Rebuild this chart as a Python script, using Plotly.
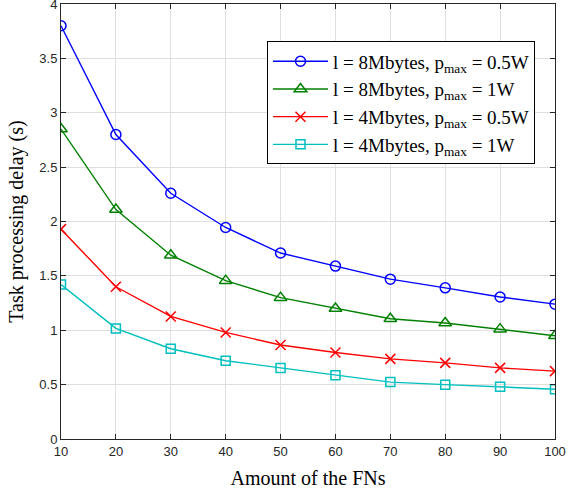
import plotly.graph_objects as go

fns = [10, 20, 30, 40, 50, 60, 70, 80, 90, 100]
delay_8mb_05w = [3.80, 2.80, 2.26, 1.945, 1.71, 1.59, 1.47, 1.39, 1.306, 1.24]
delay_8mb_1w = [2.85, 2.11, 1.69, 1.456, 1.30, 1.20, 1.106, 1.066, 1.01, 0.95]
delay_4mb_05w = [1.93, 1.40, 1.127, 0.98, 0.864, 0.795, 0.737, 0.70, 0.654, 0.624]
delay_4mb_1w = [1.42, 1.017, 0.83, 0.72, 0.654, 0.587, 0.523, 0.50, 0.48, 0.458]

names = [
    "l = 8Mbytes, p<sub>max</sub> = 0.5W",
    "l = 8Mbytes, p<sub>max</sub> = 1W",
    "l = 4Mbytes, p<sub>max</sub> = 0.5W",
    "l = 4Mbytes, p<sub>max</sub> = 1W",
]
series = [delay_8mb_05w, delay_8mb_1w, delay_4mb_05w, delay_4mb_1w]
colors = ["#0000ff", "#008000", "#ff0000", "#00bfbf"]
symbols = ["circle-open", "triangle-up-open", "x-thin-open", "square-open"]
sizes = [10, 11, 10, 9]

fig = go.Figure()
for nm, ys, c, s, sz in zip(names, series, colors, symbols, sizes):
    fig.add_trace(go.Scatter(
        x=fns, y=ys, name=nm, mode="lines+markers",
        line=dict(color=c, width=1.4),
        marker=dict(symbol=s, size=sz, color=c, line=dict(color=c, width=1.5)),
    ))

axis_common = dict(
    showline=True, linecolor="#262626", linewidth=1, mirror="ticks",
    ticks="inside", ticklen=5, tickcolor="#262626",
    showgrid=True, gridcolor="#dfdfdf", gridwidth=1,
    zeroline=False, automargin=False, ticklabeloverflow="allow",
    tickfont=dict(family="Liberation Sans, Arial", size=13, color="#262626"),
)

fig.update_layout(
    width=569, height=495,
    margin=dict(l=61, r=14, t=4, b=56),
    paper_bgcolor="white", plot_bgcolor="white",
    xaxis=dict(range=[10, 100], tickvals=fns,
               title=dict(text="Amount of the FNs", standoff=13,
                          font=dict(family="Liberation Serif, Times New Roman", size=20, color="black")),
               **axis_common),
    yaxis=dict(range=[0, 4], dtick=0.5,
               title=dict(text="Task processing delay (s)", standoff=10,
                          font=dict(family="Liberation Serif, Times New Roman", size=20, color="black")),
               **axis_common),
    legend=dict(x=0.417, y=0.914, xanchor="left", yanchor="top",
                bgcolor="white", bordercolor="black", borderwidth=1,
                font=dict(family="Liberation Serif, Times New Roman", size=19, color="black"),
                tracegroupgap=0, itemwidth=55),
    showlegend=True,
)

fig.write_html("out.html", config={"displayModeBar": False},
               post_script="document.body.style.margin='0';document.body.style.padding='0';")
